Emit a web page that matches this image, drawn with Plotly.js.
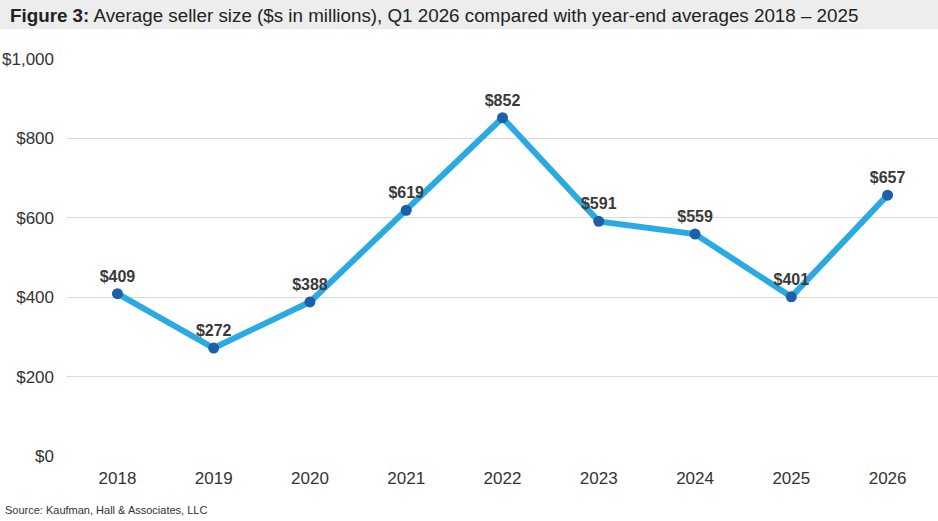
<!DOCTYPE html>
<html>
<head>
<meta charset="utf-8">
<script src="https://cdn.plot.ly/plotly-3.0.1.min.js"></script>
<style>
  html, body { margin: 0; padding: 0; background: #fff; }
  #chart { width: 938px; height: 521px; }
</style>
</head>
<body>
<div id="chart"></div>
<script>
  const years = ['2018', '2019', '2020', '2021', '2022', '2023', '2024', '2025', '2026']
  const sellerSize = [409, 272, 388, 619, 852, 591, 559, 401, 657]
  const yTicks = [0, 200, 400, 600, 800, 1000]
  const yTickText = ['$0', '$200', '$400', '$600', '$800', '$1,000']

  const font = 'Liberation Sans, Arial, sans-serif'
  const plotLeft = 67
  const plotWidth = 938 - plotLeft
  const plotHeight = 456 - 59

  const data = [{
    x: years,
    y: sellerSize,
    type: 'scatter',
    mode: 'lines+markers+text',
    line: { color: '#2aaae2', width: 6 },
    marker: { color: '#1d5fa8', size: 11 },
    text: sellerSize.map(v => '$' + v),
    textposition: 'top center',
    textfont: { family: font, size: 16, color: '#3a3a3a', weight: 'bold' },
    cliponaxis: false,
    hoverinfo: 'x+y',
  }]

  const layout = {
    width: 938,
    height: 521,
    margin: { l: plotLeft, r: 0, t: 59, b: 65 },
    paper_bgcolor: '#fff',
    plot_bgcolor: '#fff',
    showlegend: false,
    font: { family: font, color: '#333' },
    title: {
      text: '<b>Figure 3:</b> Average seller size ($s in millions), Q1 2026 compared with year-end averages 2018 – 2025',
      font: { family: font, size: 18.8, color: '#222' },
      xref: 'container',
      yref: 'container',
      x: 10 / 938,
      xanchor: 'left',
      y: 1 - 15 / 521,
      yanchor: 'middle',
    },
    xaxis: {
      type: 'category',
      tickfont: { family: font, size: 17, color: '#333' },
      showgrid: false,
      zeroline: false,
      showline: false,
      ticks: '',
      ticklabelstandoff: 10,
      fixedrange: true,
    },
    yaxis: {
      range: [0, 1000],
      tickmode: 'array',
      tickvals: yTicks,
      ticktext: yTickText,
      tickfont: { family: font, size: 17, color: '#333' },
      showgrid: true,
      gridcolor: '#d9d9d9',
      gridwidth: 1,
      zeroline: false,
      ticks: '',
      ticklabelstandoff: 12,
      fixedrange: true,
    },
    shapes: [{
      type: 'rect',
      xref: 'paper',
      yref: 'paper',
      x0: -plotLeft / plotWidth,
      x1: 1,
      y0: 1 + (59 - 29) / plotHeight,
      y1: 1 + 59 / plotHeight,
      fillcolor: '#ededed',
      line: { width: 0 },
      layer: 'below',
    }],
    annotations: [{
      text: 'Source: Kaufman, Hall & Associates, LLC',
      xref: 'paper',
      yref: 'paper',
      x: -64 / plotWidth,
      y: -(510 - 456) / plotHeight,
      xanchor: 'left',
      yanchor: 'middle',
      showarrow: false,
      font: { family: font, size: 11, color: '#333' },
    }],
  }

  const config = { displayModeBar: false, responsive: false }

  Plotly.newPlot('chart', data, layout, config)
</script>
</body>
</html>
